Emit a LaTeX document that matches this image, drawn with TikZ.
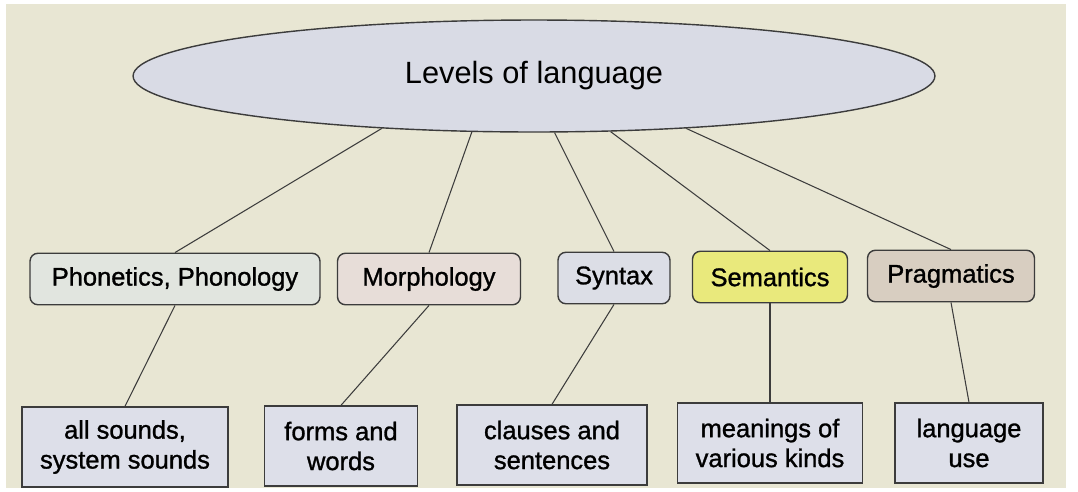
\documentclass[tikz,border=0pt]{standalone}
\usepackage{fontspec}
\setmainfont{Liberation Sans}
\newfontfamily\boxfont[FakeBold=1.1]{Liberation Sans}
\usetikzlibrary{shapes.geometric}

\definecolor{screenbg}{HTML}{E8E6D3}
\definecolor{ovalfill}{HTML}{D9DBE5}
\definecolor{phonfill}{HTML}{E1E5DF}
\definecolor{morphfill}{HTML}{E7DDD8}
\definecolor{synfill}{HTML}{DCDEE6}
\definecolor{semfill}{HTML}{E9E97C}
\definecolor{pragfill}{HTML}{D8CEC1}
\definecolor{leaffill}{HTML}{DDDFE9}
\definecolor{edge}{HTML}{3C3C3C}

\begin{document}
\begin{tikzpicture}[x=0.02cm, y=-0.02cm,
  level/.style={draw=edge, line width=0.8pt, rectangle, rounded corners=4.5pt, minimum height=1.03cm, inner sep=2pt, font=\boxfont\fontsize{14.5}{17}\selectfont},
  leaf/.style={draw=edge, line width=0.8pt, rectangle, fill=leaffill, minimum height=1.6cm, inner sep=2pt, align=center, font=\boxfont\fontsize{14.5}{17}\selectfont},
  link/.style={draw=edge, line width=0.6pt}]
  \useasboundingbox (0,0) rectangle (1078,491);
  \fill[white] (0,0) rectangle (1078,491);
  \fill[screenbg] (6,4) rectangle (1066,488);

  \node[ellipse, draw=edge, line width=0.8pt, fill=ovalfill, minimum width=16.04cm, minimum height=2.24cm, font=\fontsize{17.5}{20}\selectfont] (lang) at (534,76) {Levels of language};

  \node[level, fill=phonfill, minimum width=5.8cm] (phon) at (175,279) {Phonetics, Phonology};
  \node[level, fill=morphfill, minimum width=3.66cm] (morph) at (429,279) {Morphology};
  \node[level, fill=synfill, minimum width=2.24cm] (syn) at (614,278) {Syntax};
  \node[level, fill=semfill, minimum width=3.1cm] (sem) at (770,277) {Semantics};
  \node[level, fill=pragfill, minimum width=3.34cm] (prag) at (951,276) {Pragmatics};

  \node[leaf, minimum width=4.12cm] (sounds) at (125,447) {all sounds,\\system sounds};
  \node[leaf, minimum width=3.06cm] (forms) at (341,446) {forms and\\words};
  \node[leaf, minimum width=3.8cm] (clauses) at (552,445) {clauses and\\sentences};
  \node[leaf, minimum width=3.7cm] (meanings) at (770,443) {meanings of\\various kinds};
  \node[leaf, minimum width=2.96cm] (languse) at (969,443) {language\\use};

  \draw[link] (lang.199) -- (phon.north);
  \draw[link] (lang.222) -- (morph.north);
  \draw[link] (lang.290) -- (syn.north);
  \draw[link] (lang.324) -- (sem.north);
  \draw[link] (lang.341) -- (prag.north);

  \draw[link] (phon.south) -- (sounds.north);
  \draw[link] (morph.south) -- (forms.north);
  \draw[link] (syn.south) -- (clauses.north);
  \draw[link] (sem.south) -- (meanings.north);
  \draw[link] (prag.south) -- (languse.north);
\end{tikzpicture}
\end{document}
